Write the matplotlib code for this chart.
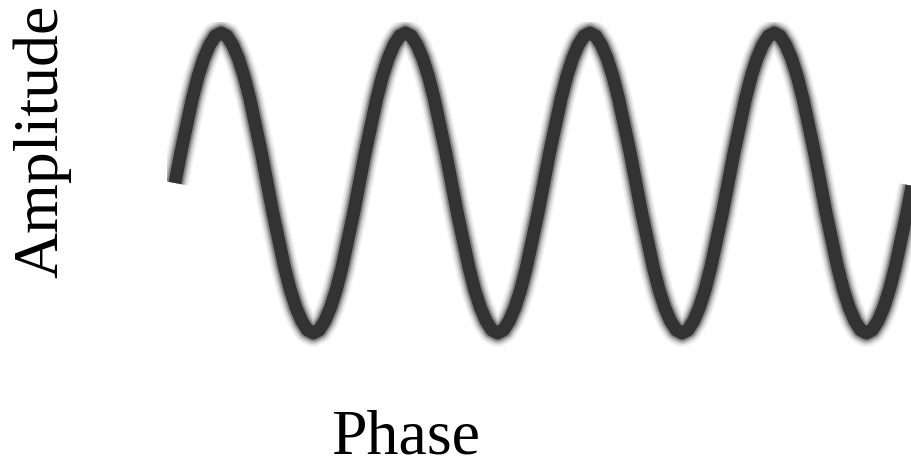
import matplotlib
matplotlib.use("Agg")
import matplotlib.pyplot as plt

# fase en grados y amplitud (4 ciclos)
fase = [0, 11.25, 22.5, 33.75, 45, 56.25, 67.5, 78.75, 90, 101.25, 112.5, 123.75, 135, 146.25, 157.5, 168.75,
        180, 191.25, 202.5, 213.75, 225, 236.25, 247.5, 258.75, 270, 281.25, 292.5, 303.75, 315, 326.25, 337.5, 348.75,
        360, 371.25, 382.5, 393.75, 405, 416.25, 427.5, 438.75, 450, 461.25, 472.5, 483.75, 495, 506.25, 517.5, 528.75,
        540, 551.25, 562.5, 573.75, 585, 596.25, 607.5, 618.75, 630, 641.25, 652.5, 663.75, 675, 686.25, 697.5, 708.75,
        720, 731.25, 742.5, 753.75, 765, 776.25, 787.5, 798.75, 810, 821.25, 832.5, 843.75, 855, 866.25, 877.5, 888.75,
        900, 911.25, 922.5, 933.75, 945, 956.25, 967.5, 978.75, 990, 1001.25, 1012.5, 1023.75, 1035, 1046.25, 1057.5, 1068.75,
        1080, 1091.25, 1102.5, 1113.75, 1125, 1136.25, 1147.5, 1158.75, 1170, 1181.25, 1192.5, 1203.75, 1215, 1226.25, 1237.5, 1248.75,
        1260, 1271.25, 1282.5, 1293.75, 1305, 1316.25, 1327.5, 1338.75, 1350, 1361.25, 1372.5, 1383.75, 1395, 1406.25, 1417.5, 1428.75,
        1440]
amplitud = [0, 0.2, 0.38, 0.56, 0.71, 0.83, 0.92, 0.98, 1, 0.98, 0.92, 0.83, 0.71, 0.56, 0.38, 0.2,
            0, -0.2, -0.38, -0.56, -0.71, -0.83, -0.92, -0.98, -1, -0.98, -0.92, -0.83, -0.71, -0.56, -0.38, -0.2,
            0, 0.2, 0.38, 0.56, 0.71, 0.83, 0.92, 0.98, 1, 0.98, 0.92, 0.83, 0.71, 0.56, 0.38, 0.2,
            0, -0.2, -0.38, -0.56, -0.71, -0.83, -0.92, -0.98, -1, -0.98, -0.92, -0.83, -0.71, -0.56, -0.38, -0.2,
            0, 0.2, 0.38, 0.56, 0.71, 0.83, 0.92, 0.98, 1, 0.98, 0.92, 0.83, 0.71, 0.56, 0.38, 0.2,
            0, -0.2, -0.38, -0.56, -0.71, -0.83, -0.92, -0.98, -1, -0.98, -0.92, -0.83, -0.71, -0.56, -0.38, -0.2,
            0, 0.2, 0.38, 0.56, 0.71, 0.83, 0.92, 0.98, 1, 0.98, 0.92, 0.83, 0.71, 0.56, 0.38, 0.2,
            0, -0.2, -0.38, -0.56, -0.71, -0.83, -0.92, -0.98, -1, -0.98, -0.92, -0.83, -0.71, -0.56, -0.38, -0.2,
            0]

W, H = 911, 463
fig = plt.figure(figsize=(W / 100, H / 100), dpi=100)
ax = fig.add_axes([167 / W, 1 - 350 / H, 744 / W, 328 / H])

px = 72 / 100  # pixeles a puntos
# bordes difusos: varias lineas anchas semitransparentes
for ancho, alfa in [(28, 0.05), (25, 0.08), (22, 0.13), (19, 0.2), (16.5, 0.32)]:
    ax.plot(fase, amplitud, color="#333333", lw=ancho * px, alpha=alfa,
            solid_capstyle="butt", solid_joinstyle="round")
ax.plot(fase, amplitud, color="#333333", lw=13 * px,
        solid_capstyle="butt", solid_joinstyle="round")

ax.set_xlim(-15.6, 1437)
ax.set_ylim(-1.113, 1.073)
ax.axis("off")

fig.text(42 / W, 1 - 141 / H, "Amplitude", family="Liberation Serif", fontsize=46,
         rotation=90, ha="center", va="center")
fig.text(406 / W, 1 - 453 / H, "Phase", family="Liberation Serif", fontsize=46,
         ha="center", va="baseline")

fig.savefig("out.png", dpi=100, facecolor="white")
